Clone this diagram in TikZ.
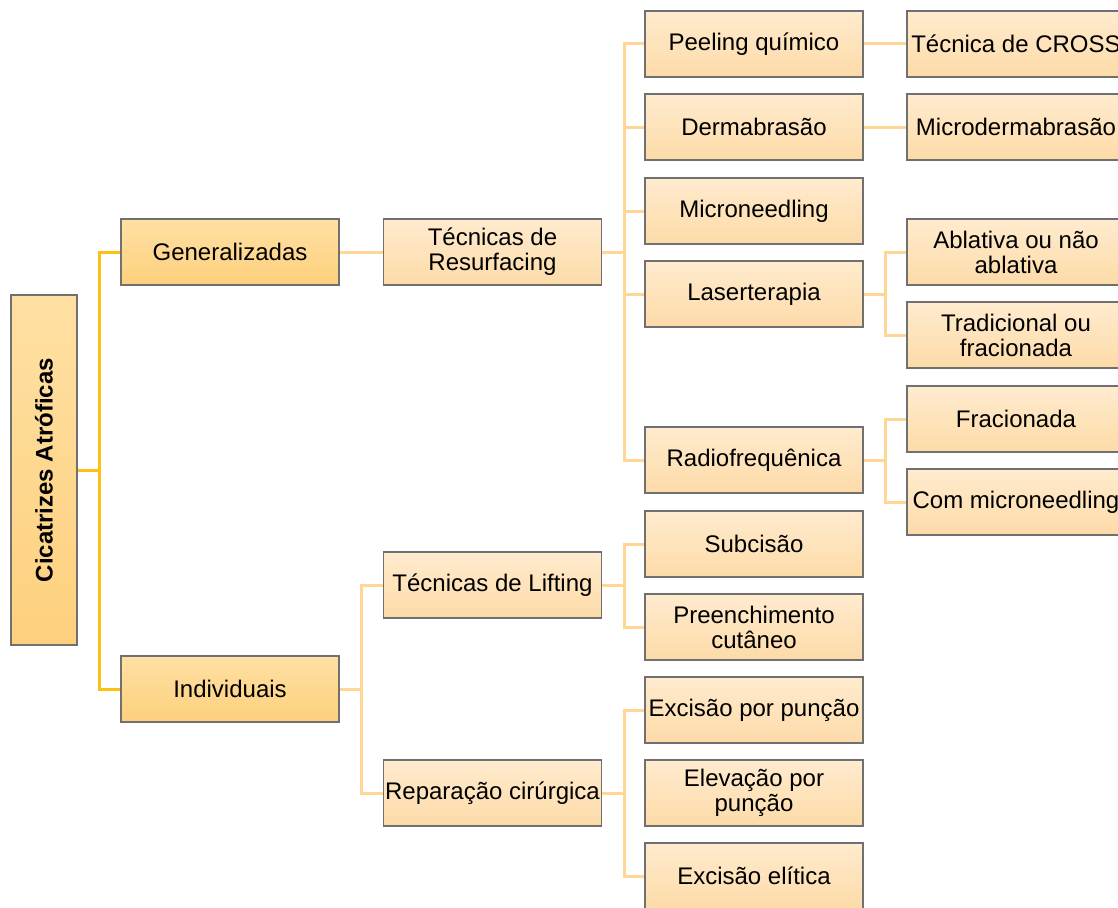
\documentclass[tikz,border=0pt]{standalone}
\usepackage{fontspec}
\setmainfont{Liberation Sans}
\usepackage{graphicx}

\definecolor{boxline}{RGB}{112,112,112}
\definecolor{maintop}{RGB}{255,224,163}
\definecolor{mainbot}{RGB}{253,208,125}
\definecolor{subtop}{RGB}{255,235,206}
\definecolor{subbot}{RGB}{253,219,168}
\definecolor{trunkcol}{RGB}{255,192,20}
\definecolor{branchcol}{RGB}{255,214,150}

\tikzset{
  box/.style={draw=boxline, line width=1.3pt, minimum width=218pt, minimum height=66pt,
    inner sep=1pt, align=center, font=\fontsize{24}{25}\selectfont,
    top color=subtop, bottom color=subbot},
  mainbox/.style={box, top color=maintop, bottom color=mainbot},
  trunk/.style={draw=trunkcol, line width=3pt},
  branch/.style={draw=branchcol, line width=3pt},
}

\begin{document}
\begin{tikzpicture}[x=1pt,y=-1pt]
\useasboundingbox (0,0) rectangle (1118,907);

% root and first level
\node[mainbox, minimum width=66pt, minimum height=350pt] (root) at (44,470)
  {\rotatebox{90}{\bfseries Cicatrizes Atróficas}};
\node[mainbox] (gen) at (230,252) {Generalizadas};
\node[mainbox] (ind) at (230,689) {Individuais};

% second level
\node[box] (resurf) at (492.5,252) {Técnicas de\\Resurfacing};
\node[box] (lift) at (492.5,585) {Técnicas de Lifting};
\node[box] (rep) at (492.5,793) {Reparação cirúrgica};

% third level
\node[box] (peel) at (754,44) {Peeling químico};
\node[box] (derm) at (754,127) {Dermabrasão};
\node[box] (mneed) at (754,211) {Microneedling};
\node[box] (laser) at (754,294) {Laserterapia};
\node[box] (radio) at (754,460) {Radiofrequênica};
\node[box] (subc) at (754,544) {Subcisão};
\node[box] (preen) at (754,627) {Preenchimento\\cutâneo};
\node[box] (excp) at (754,710) {Excisão por punção};
\node[box] (elev) at (754,793) {Elevação por\\punção};
\node[box] (exce) at (754,876) {Excisão elítica};

% fourth level
\node[box] (cross) at (1016,44) {Técnica de CROSS};
\node[box] (mderm) at (1016,127) {Microdermabrasão};
\node[box] (abl) at (1016,252) {Ablativa ou não\\ablativa};
\node[box] (trad) at (1016,335) {Tradicional ou\\fracionada};
\node[box] (frac) at (1016,419) {Fracionada};
\node[box] (comm) at (1016,502) {Com microneedling};

% bus points
\coordinate (b1) at (99,470);
\coordinate (b2) at (361,689);
\coordinate (b3) at (624,252);
\coordinate (b4) at (624,585);
\coordinate (b5) at (624,793);
\coordinate (b6) at (885,294);
\coordinate (b7) at (885,460);

% connectors
\draw[trunk] (root.east) -- (b1);
\draw[trunk] (gen.west) -| (b1) |- (ind.west);
\draw[branch] (gen) -- (resurf);
\draw[branch] (ind.east) -- (b2);
\draw[branch] (lift.west) -| (b2) |- (rep.west);
\draw[branch] (resurf.east) -- (b3);
\foreach \n in {peel,derm,mneed,laser,radio}
  \draw[branch] (b3) |- (\n.west);
\draw[branch] (lift.east) -- (b4);
\draw[branch] (subc.west) -| (b4) |- (preen.west);
\draw[branch] (rep.east) -- (b5);
\draw[branch] (excp.west) -| (b5) |- (exce.west);
\draw[branch] (peel) -- (cross);
\draw[branch] (derm) -- (mderm);
\draw[branch] (laser.east) -- (b6);
\draw[branch] (abl.west) -| (b6) |- (trad.west);
\draw[branch] (radio.east) -- (b7);
\draw[branch] (frac.west) -| (b7) |- (comm.west);
\end{tikzpicture}
\end{document}
